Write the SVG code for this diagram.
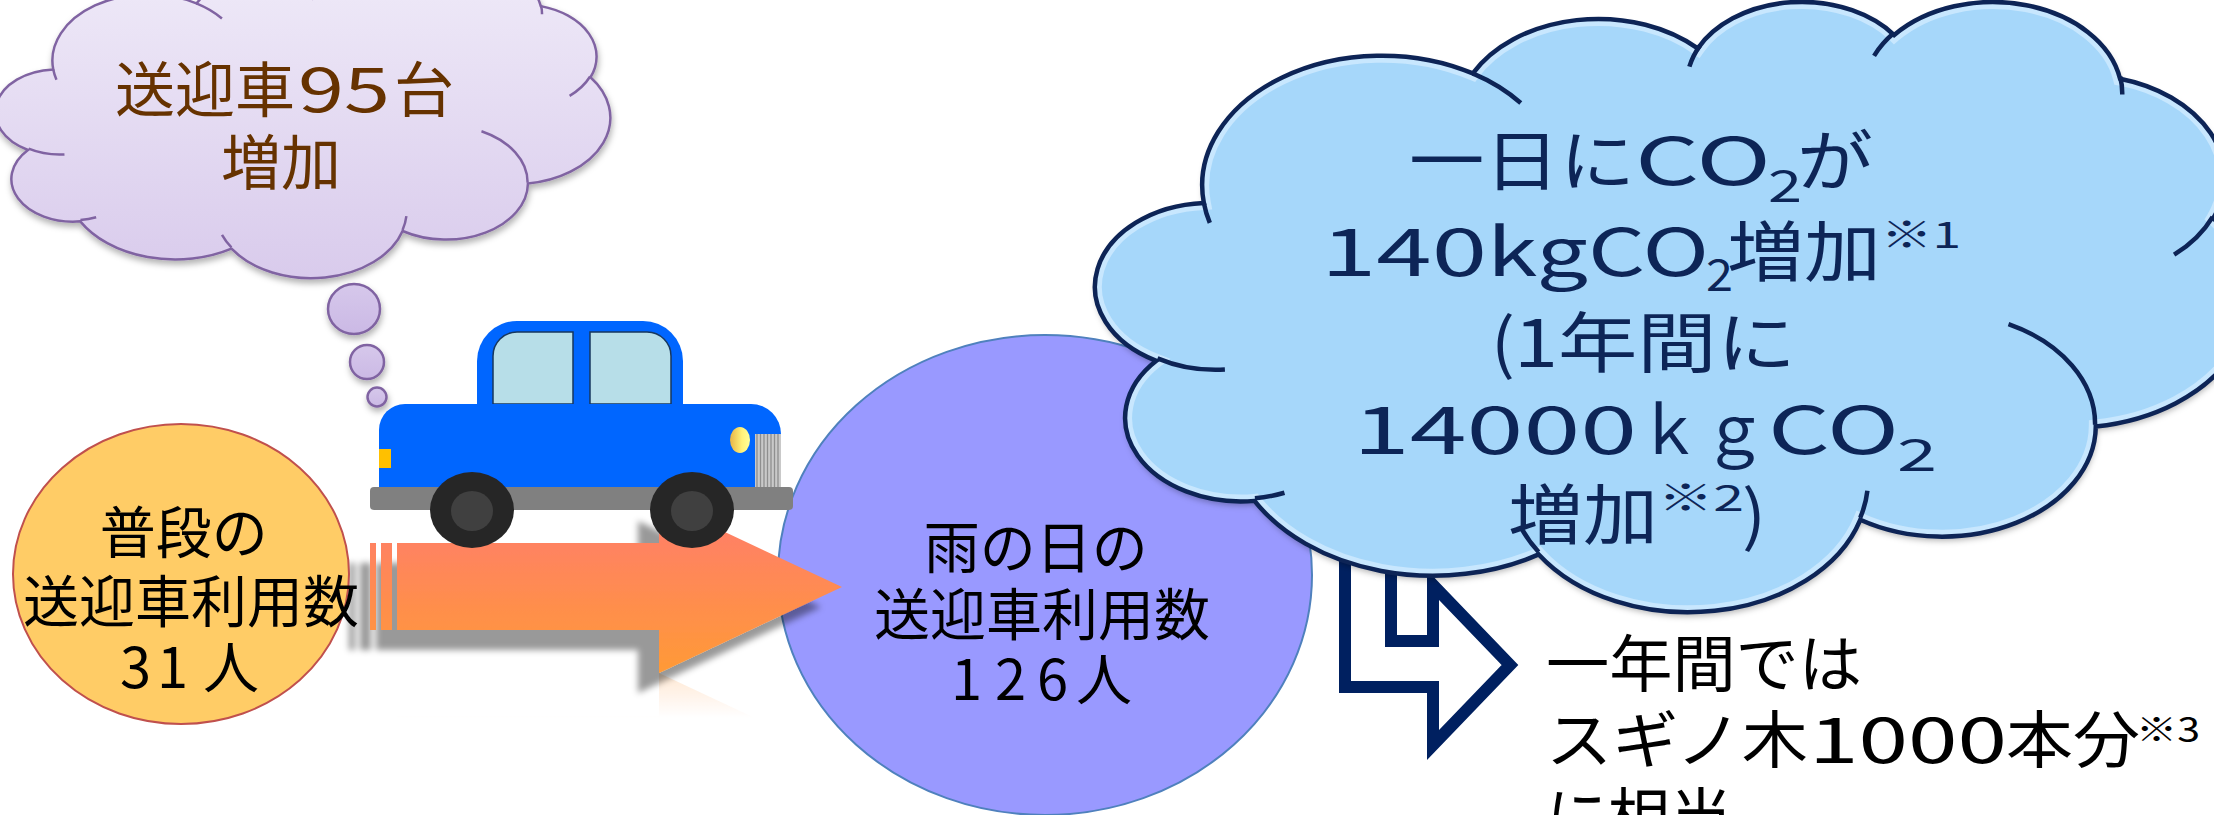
<svg xmlns="http://www.w3.org/2000/svg" width="2214" height="815" viewBox="0 0 2214 815">
  <defs>
    <style>
      .jp { font-family: "Noto Sans CJK JP", "Noto Sans CJK SC", sans-serif; }
      .brown { fill: #663300; }
      .navy { fill: #0D2557; }
      .ink { fill: #000000; }
      .cloud-purple { fill: url(#gradLavender); stroke: #8064A2; stroke-width: 2.5; }
      .cloud-purple-fold { fill: none; stroke: #8064A2; stroke-width: 2.5; }
      .bubble { fill: url(#gradBubble); stroke: #8064A2; stroke-width: 2.5; }
      .cloud-blue { fill: #A6D7FA; }
      .cloud-blue-edge { fill: none; stroke: #0D2456; stroke-width: 4.5; }
      .cloud-blue-bevel { fill: none; stroke: #D3ECFF; stroke-width: 14; opacity: 0.75; }
    </style>

    <!-- cloud outline in a 1000 x 1000 box -->
    <path id="cloud-outline" vector-effect="non-scaling-stroke"
      d="M90.3,332.6A156.3,212.7 0 0 1 324.2,120.4A123.4,168.2 0 0 1 519.8,79.4A101,137.6 0 0 1 690.6,57.4A112.4,152.7 0 0 1 887,129A123.4,168.4 0 0 1 968.1,357.8A156.8,213.4 0 0 1 865.9,699.1A133.9,182.1 0 0 1 661.1,852.1A156.3,213.3 0 0 1 381.5,908.9A178.7,244.1 0 0 1 134.4,821.1A100.9,137 0 0 1 49,591.5A100.6,137.6 0 0 1 90.3,332.6Z"/>
    <!-- the short inner folds between the puffs -->
    <path id="cloud-folds" vector-effect="non-scaling-stroke"
      d="M108.6,605.9A100.6,137.6 0 0 1 50,587.5M160.4,807.8A100.9,137 0 0 1 134.7,816.7M381.4,904.9A156.3,213.3 0 0 1 366,864.5M667.3,804.4A156.3,213.3 0 0 1 661.1,848.6M790,531.3A133.9,182.1 0 0 1 865.3,696.5M967.5,355.4A123.4,168.4 0 0 1 934,417.4M887.1,125.6A112.4,152.7 0 0 1 888.9,154.9M673.1,91.5A112.4,152.7 0 0 1 690.3,54.2M512.5,109.3A101,137.6 0 0 1 521.7,74.7M324.1,120.2A156.3,212.7 0 0 1 365.9,168.8M95.5,365.5A156.3,212.7 0 0 1 90.3,332.7"/>

    <clipPath id="clipBlueCloud">
      <use href="#cloud-outline" transform="translate(1100,0) scale(1.15,0.61)"/>
    </clipPath>

    <linearGradient id="gradLavender" x1="0" y1="0" x2="0" y2="1">
      <stop offset="0" stop-color="#EFEAF8"/>
      <stop offset="1" stop-color="#D9CBEC"/>
    </linearGradient>
    <linearGradient id="gradBubble" x1="0" y1="0" x2="0" y2="1">
      <stop offset="0" stop-color="#D6C8EB"/>
      <stop offset="1" stop-color="#CBB9E5"/>
    </linearGradient>
    <linearGradient id="gradArrow" x1="0" y1="501" x2="0" y2="673" gradientUnits="userSpaceOnUse">
      <stop offset="0" stop-color="#FF7B6F"/>
      <stop offset="1" stop-color="#FF9A36"/>
    </linearGradient>
    <linearGradient id="gradLamp" x1="0" y1="0" x2="1" y2="0">
      <stop offset="0" stop-color="#E9B445"/>
      <stop offset="0.6" stop-color="#FFF27A"/>
      <stop offset="1" stop-color="#FFFF99"/>
    </linearGradient>
    <linearGradient id="gradFade" x1="0" y1="673" x2="0" y2="718" gradientUnits="userSpaceOnUse">
      <stop offset="0" stop-color="#fff" stop-opacity="0.22"/>
      <stop offset="1" stop-color="#fff" stop-opacity="0"/>
    </linearGradient>
    <mask id="maskFade" maskUnits="userSpaceOnUse" x="300" y="660" width="600" height="80">
      <rect x="300" y="673" width="600" height="60" fill="url(#gradFade)"/>
    </mask>

    <filter id="shadowSoft" x="-10%" y="-10%" width="120%" height="130%">
      <feDropShadow dx="1" dy="4" stdDeviation="3" flood-color="#000" flood-opacity="0.3"/>
    </filter>
    <filter id="shadowArrow" x="-10%" y="-20%" width="120%" height="150%">
      <feDropShadow dx="-21" dy="20" stdDeviation="3" flood-color="#000" flood-opacity="0.4"/>
    </filter>

    <path id="arrow-shape" d="M397,543H659V501L842,587L659,673V630H397Z"/>
  </defs>

  <!-- thought cloud with bubbles -->
  <g id="node-thought" filter="url(#shadowSoft)">
    <use href="#cloud-outline" class="cloud-purple" transform="translate(-2,-34) scale(0.612,0.311)"/>
    <use href="#cloud-folds" class="cloud-purple-fold" transform="translate(-2,-34) scale(0.612,0.311)"/>
    <ellipse class="bubble" cx="354" cy="309" rx="26" ry="25"/>
    <ellipse class="bubble" cx="367" cy="362" rx="17" ry="17"/>
    <ellipse class="bubble" cx="377" cy="397" rx="9.5" ry="9.5"/>
    <text class="jp brown" y="112" font-size="60"><tspan x="115">送迎車</tspan><tspan x="298" textLength="92" lengthAdjust="spacingAndGlyphs">95</tspan><tspan x="394">台</tspan></text>
    <text class="jp brown" x="221" y="185" font-size="60">増加</text>
  </g>

  <!-- rainy-day count -->
  <g id="node-rainy">
    <ellipse cx="1045" cy="575" rx="267" ry="240" fill="#9999FF" stroke="#4F81BD" stroke-width="2"/>
    <text class="jp ink" font-size="56" text-anchor="middle">
      <tspan x="1042" y="568">雨の日の</tspan>
      <tspan x="1042" y="635">送迎車利用数</tspan>
    </text>
    <text class="jp ink" y="700" font-size="56"><tspan x="951">1</tspan><tspan x="995">2</tspan><tspan x="1037">6</tspan><tspan x="1076">人</tspan></text>
  </g>

  <!-- connectors -->
  <g id="connectors">
    <!-- striped block arrow with drop shadow and a faint reflection -->
    <g id="arrow-increase">
      <g mask="url(#maskFade)">
        <g transform="translate(0,1346) scale(1,-1)">
          <use href="#arrow-shape" fill="url(#gradArrow)"/>
        </g>
      </g>
      <g filter="url(#shadowArrow)">
        <rect x="370" y="543" width="6" height="87" fill="url(#gradArrow)"/>
        <rect x="381" y="543" width="11" height="87" fill="url(#gradArrow)"/>
        <use href="#arrow-shape" fill="url(#gradArrow)"/>
      </g>
    </g>
    <!-- bent outline arrow below the CO2 cloud -->
    <path id="arrow-bent" d="M1391,520V641H1433V585L1510,665L1433,745V687H1345V520Z"
      fill="#FFFFFF" stroke="#002060" stroke-width="12" stroke-linejoin="miter"/>
  </g>

  <!-- usual count -->
  <g id="node-usual">
    <ellipse cx="181" cy="574" rx="168" ry="150" fill="#FFCC66" stroke="#C0504D" stroke-width="2"/>
    <text class="jp ink" font-size="56" text-anchor="middle">
      <tspan x="190" y="553">普段の</tspan>
      <tspan x="191" y="622">送迎車利用数</tspan>
    </text>
    <text class="jp ink" y="688" font-size="56"><tspan x="120">3</tspan><tspan x="157">1</tspan><tspan x="203">人</tspan></text>
  </g>

  <!-- shuttle car -->
  <g id="node-car">
    <path d="M477,412V361A40,40 0 0 1 517,321H643A40,40 0 0 1 683,361V412Z" fill="#0066FF"/>
    <path d="M493,404V356A24,24 0 0 1 517,332H573V404Z" fill="#B7DEE8" stroke="#17375E" stroke-width="1.5"/>
    <path d="M590,404V332H647A24,24 0 0 1 671,356V404Z" fill="#B7DEE8" stroke="#17375E" stroke-width="1.5"/>
    <path d="M379,490V430A26,26 0 0 1 405,404H751A30,30 0 0 1 781,434V490Z" fill="#0066FF"/>
    <rect x="379" y="449" width="12" height="19" fill="#FFC000"/>
    <ellipse cx="740" cy="440" rx="10" ry="13" fill="url(#gradLamp)"/>
    <rect x="755" y="434" width="26" height="54" fill="#C9C9C9"/>
    <path d="M757,434V488M760.5,434V488M764,434V488M767.5,434V488M771,434V488M774.5,434V488M778,434V488" stroke="#8F8F8F" stroke-width="1.3"/>
    <rect x="370" y="487" width="423" height="23" rx="4" fill="#808080"/>
    <ellipse cx="472" cy="510" rx="42" ry="38" fill="#262626"/>
    <ellipse cx="472" cy="511" rx="21" ry="20" fill="#404040"/>
    <ellipse cx="692" cy="510" rx="42" ry="38" fill="#262626"/>
    <ellipse cx="692" cy="511" rx="21" ry="20" fill="#404040"/>
  </g>

  <!-- CO2 cloud -->
  <g id="node-co2">
    <g filter="url(#shadowSoft)">
      <use href="#cloud-outline" class="cloud-blue" transform="translate(1100,0) scale(1.15,0.61)"/>
    </g>
    <g clip-path="url(#clipBlueCloud)">
      <use href="#cloud-outline" class="cloud-blue-bevel" transform="translate(1100,0) scale(1.15,0.61)"/>
    </g>
    <use href="#cloud-outline" class="cloud-blue-edge" transform="translate(1100,0) scale(1.15,0.61)"/>
    <use href="#cloud-folds" class="cloud-blue-edge" transform="translate(1100,0) scale(1.15,0.61)"/>
    <g class="jp navy" font-size="66">
      <text y="185"><tspan x="1409" textLength="226" lengthAdjust="spacingAndGlyphs">一日に</tspan><tspan x="1635" textLength="136" lengthAdjust="spacingAndGlyphs">CO</tspan><tspan x="1768" dy="17" font-size="44" textLength="34" lengthAdjust="spacingAndGlyphs">2</tspan><tspan x="1797" dy="-17" textLength="76" lengthAdjust="spacingAndGlyphs">が</tspan></text>
      <text y="276"><tspan x="1321" textLength="166" lengthAdjust="spacingAndGlyphs">140</tspan><tspan x="1487" textLength="101" lengthAdjust="spacingAndGlyphs">kg</tspan><tspan x="1588" textLength="121" lengthAdjust="spacingAndGlyphs">CO</tspan><tspan x="1706" dy="15" font-size="44" textLength="27" lengthAdjust="spacingAndGlyphs">2</tspan><tspan x="1727" dy="-15" textLength="154" lengthAdjust="spacingAndGlyphs">増加</tspan><tspan x="1881" dy="-28" font-size="36" textLength="80" lengthAdjust="spacingAndGlyphs">※1</tspan></text>
      <text y="367"><tspan x="1491" textLength="24" lengthAdjust="spacingAndGlyphs">(</tspan><tspan x="1514" textLength="44" lengthAdjust="spacingAndGlyphs">1</tspan><tspan x="1558" textLength="238" lengthAdjust="spacingAndGlyphs">年間に</tspan></text>
      <text y="454"><tspan x="1353" textLength="284" lengthAdjust="spacingAndGlyphs">14000</tspan><tspan x="1637" textLength="130" lengthAdjust="spacingAndGlyphs">ｋｇ</tspan><tspan x="1768" textLength="131" lengthAdjust="spacingAndGlyphs">CO</tspan><tspan x="1897" dy="17" font-size="44" textLength="40" lengthAdjust="spacingAndGlyphs">2</tspan></text>
      <text y="539"><tspan x="1508" textLength="150" lengthAdjust="spacingAndGlyphs">増加</tspan><tspan x="1658" dy="-28" font-size="36" textLength="86" lengthAdjust="spacingAndGlyphs">※2</tspan><tspan x="1742" dy="28" textLength="24" lengthAdjust="spacingAndGlyphs">)</tspan></text>
    </g>
  </g>

  <!-- yearly equivalent -->
  <g id="node-trees" class="jp ink" font-size="62">
    <text x="1546" y="687" textLength="316" lengthAdjust="spacingAndGlyphs">一年間では</text>
    <text y="763"><tspan x="1546" textLength="262" lengthAdjust="spacingAndGlyphs">スギノ木</tspan><tspan x="1809" textLength="198" lengthAdjust="spacingAndGlyphs">1000</tspan><tspan x="2006" textLength="134" lengthAdjust="spacingAndGlyphs">本分</tspan><tspan x="2136" dy="-21" font-size="34" textLength="64" lengthAdjust="spacingAndGlyphs">※3</tspan></text>
    <text x="1546" y="840">に相当</text>
  </g>
</svg>
